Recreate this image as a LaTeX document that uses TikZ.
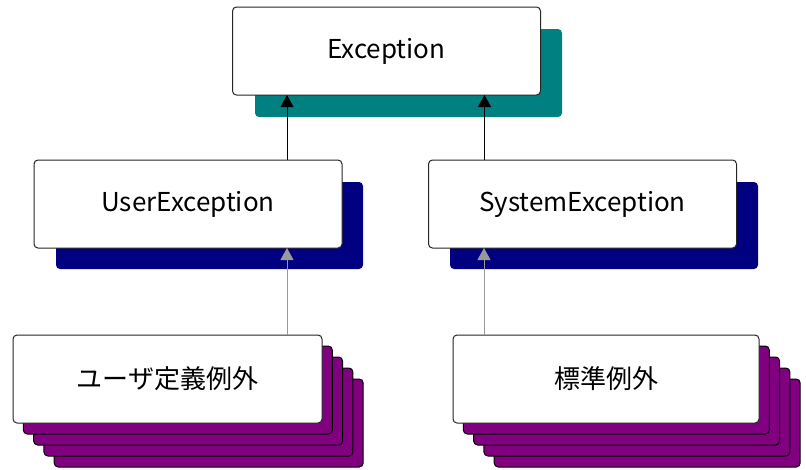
\documentclass[tikz,border=0pt]{standalone}
\usepackage{fontspec}
\setmainfont{Noto Sans CJK JP}
\usetikzlibrary{arrows.meta,calc}
\definecolor{shteal}{HTML}{008080}
\definecolor{shnavy}{HTML}{000080}
\definecolor{shpurple}{HTML}{800080}
\begin{document}
\begin{tikzpicture}[x=1pt,y=-1pt,
  classbox/.style={draw=black!85, line width=1pt, fill=white, rounded corners=4pt,
    minimum width=308pt, minimum height=88pt, inner sep=0pt, outer sep=0pt,
    font=\fontsize{26}{30}\selectfont},
  blackarrow/.style={draw=black, line width=1pt, -{Triangle[width=13pt,length=12pt]}},
  grayarrow/.style={draw=black!40, line width=1pt, -{Triangle[width=13pt,length=12pt]}},
  stackbox/.style={fill=shpurple, draw=black, line width=1pt, rounded corners=4pt}]
\useasboundingbox (0,0) rectangle (806,469);
% shadows
\fill[shteal, rounded corners=4pt] (255,29) rectangle (562,117);
\fill[shnavy, rounded corners=4pt] (56,182) rectangle (363,269);
\fill[shnavy, rounded corners=4pt] (450,182) rectangle (758,269);
\foreach \k in {4,3,2,1} {
  \draw[stackbox] ({13+10.3*\k},{335+11*\k}) rectangle ({322+10.3*\k},{423+11*\k});
  \draw[stackbox] ({453+10.3*\k},{335+11*\k}) rectangle ({759+10.3*\k},{423+11*\k});
}
% boxes
\node[classbox] (ex) at (386.5,51) {Exception};
\node[classbox] (ue) at (188,204) {UserException};
\node[classbox] (se) at (582.5,204) {SystemException};
\node[classbox, minimum width=309pt] (ud) at (167.5,379) {ユーザ定義例外};
\node[classbox, minimum width=306pt] (sd) at (606,379) {標準例外};
% connectors
\draw[blackarrow] ([xshift=-55pt]ue.north east) -- ([xshift=-55pt]ue.north east |- ex.south);
\draw[blackarrow] ([xshift=56pt]se.north west) -- ([xshift=56pt]se.north west |- ex.south);
\draw[grayarrow] ([xshift=-35pt]ud.north east) -- ([xshift=-35pt]ud.north east |- ue.south);
\draw[grayarrow] ([xshift=31pt]sd.north west) -- ([xshift=31pt]sd.north west |- se.south);
\end{tikzpicture}
\end{document}
